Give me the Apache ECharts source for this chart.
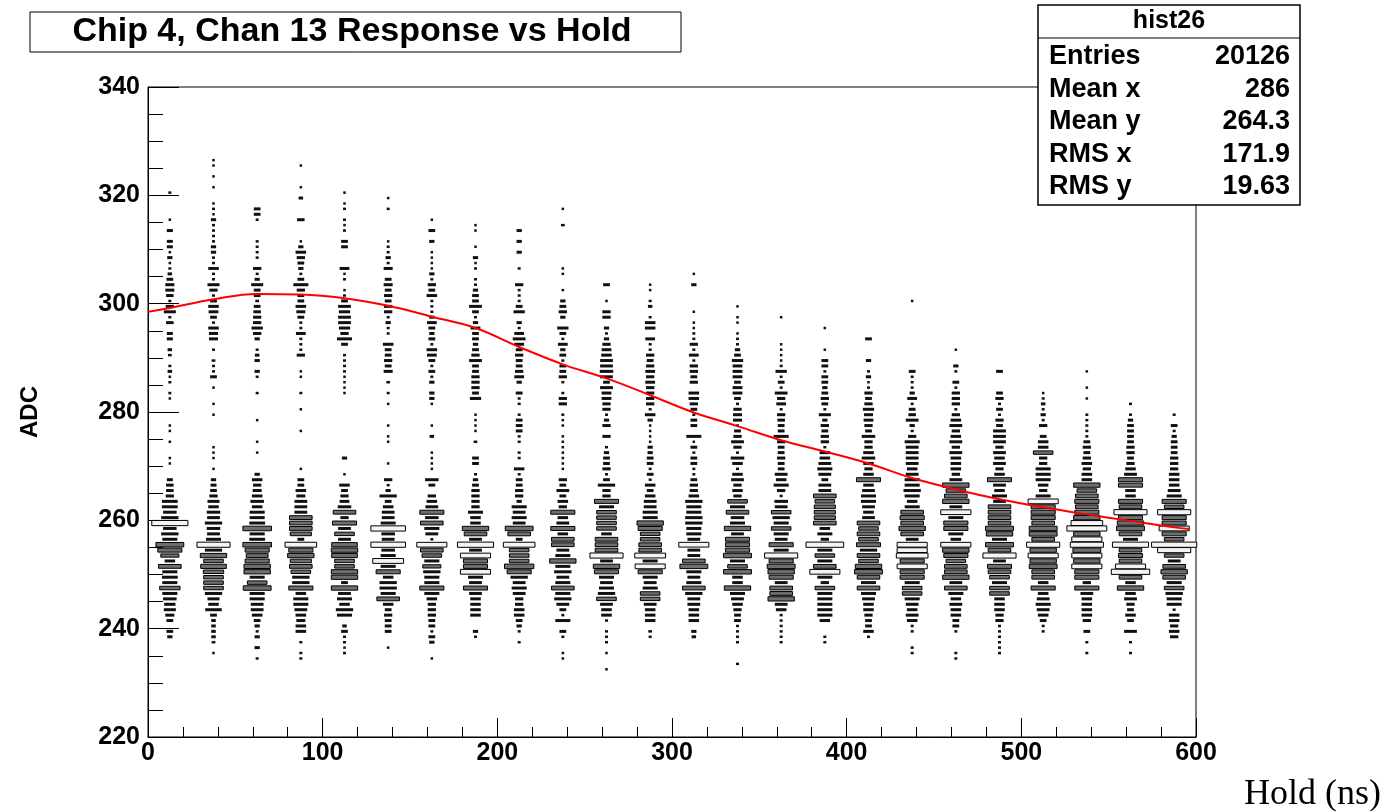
<!DOCTYPE html>
<html>
<head>
<meta charset="utf-8">
<script src="https://cdn.jsdelivr.net/npm/echarts@6/dist/echarts.min.js"></script>
<style>
  html, body { margin: 0; padding: 0; background: #fff; }
  #chart { width: 1386px; height: 811px; }
</style>
</head>
<body>
<div id="chart"></div>
<script>
// hold bin centres (ns) and lowest ADC bin of every column
const holdCenters = [12.5, 37.5, 62.5, 87.5, 112.5, 137.5, 162.5, 187.5, 212.5, 237.5, 262.5, 287.5,
  312.5, 337.5, 362.5, 387.5, 412.5, 437.5, 462.5, 487.5, 512.5, 537.5, 562.5, 587.5];
const binLow = [238, 235, 234, 234, 235, 236, 234, 238, 237, 234, 232, 238,
  238, 233, 237, 237, 238, 235, 234, 235, 239, 235, 235, 238];

// entries per 1-ADC bin, from binLow upwards
const c01 = [5,7,0,7,10,14,13,16,18,25, 18,19,18,28,12,22,30,35,18,21, 16,46,21,16,19,19,9,8,8,6,
  0,0,1,1,0,0,1,0,1,1, 0,0,0,0,1,2,0,2,1,4, 2,0,3,4,0,6,6,0,8,2, 14,9,2,8,10,10,7,4,2,1, 5,1,6,6,0,6,0,1,0,0, 0,0,2];
const c02 = [1,0,3,4,4,4,4,7,20,12, 14,21,24,24,24,25,32,24,33,21, 42,18,15,16,21,15,16,12,14,9,
  7,6,5,0,1,0,1,1,1,0, 0,0,0,0,1,0,1,0,0,1, 0,7,2,2,3,0,2,0,10,10, 12,2,7,11,12,7,2,9,14,2,
  2,12,2,2,5,5,2,2,2,2, 5,1,2,1,0,0,1,0,1,0, 1,1];
const c03 = [2,0,5,0,5,2,5,7,12,15, 15,18,18,35,24,18,33,33,30,27, 30,36,19,18,36,19,18,18,12,16,
  12,10,9,12,5,0,0,0,1,0, 1,0,0,0,1,0,0,0,0,2, 0,0,2,5,0,5,4,2,0,5, 9,13,9,9,8,7,3,7,7,14,
  5,2,9,0,2,2,2,2,0,0, 0,2,7,7];
const c04 = [2,2,0,2,0,12,12,10,12,15, 18,18,12,30,21,21,24,28,26,33, 30,40,7,26,28,28,28,15,15,15,
  10,12,7,7,0,1,0,0,0,0, 0,0,1,0,0,0,1,0,0,2, 0,0,1,1,0,0,9,2,2,2, 11,2,2,7,10,12,7,7,9,18,
  7,2,5,7,9,12,5,1,0,0, 0,8,0,0,0,4,0,1,0,0, 0,1];
const c05 = [2,1,2,2,7,4,0,18,21,12, 18,15,33,7,33,33,24,24,32,33, 32,15,24,15,30,9,28,16,11,9,
  7,12,0,1,0,0,5,0,0,0, 0,0,0,0,0,0,0,0,1,1, 1,1,2,2,2,2,0,7,18,9, 13,15,15,13,15,7,2,1,0,2,
  1,11,0,0,0,7,7,0,2,1, 2,0,2,1,0,1];
const c06 = [1,0,0,7,7,7,9,7,12,28, 18,21,21,12,30,18,39,18,16,44, 15,16,44,18,15,15,12,7,21,5,
  2,9,0,0,1,0,0,0,1,1, 0,1,0,0,0,1,0,2,0,3, 0,10,7,9,7,7,12,0,2,2, 5,2,9,9,7,9,7,10,7,0,
  10,2,5,2,2,1,0,0,0,0, 0,2,0,1];
const c07 = [1,0,0,5,7,2,7,7,9,9, 9,12,18,30,18,18,21,22,18,24, 28,38,2,15,18,28,16,30,15,12,
  9,0,7,16,0,1,1,1,1,0, 0,4,0,1,0,0,0,1,5,5, 0,5,2,7,2,7,11,12,2,7, 5,7,11,5,2,2,2,12,7,9,
  2,5,1,1,1,1,0,5,0,7, 0,1];
const c08 = [2,5,0,0,12,12,12,12,15,30, 15,18,38,30,30,38,15,46,15,28, 33,12,12,18,9,9,9,9,7,5,
  2,0,7,7,0,0,3,0,1,1, 1,1,0,0,13,7,9,9,9,7, 7,15,9,7,5,7,7,11,5,2, 7,15,7,7,5,2,2,0,2,1,
  5,0,1,0,0,1,1];
const c09 = [2,0,2,5,7,12,12,9,9,15, 18,15,21,30,37,24,24,24,40,7, 28,35,15,18,15,18,5,9,9,7,
  7,2,12,0,2,2,0,2,2,7, 7,7,2,0,2,2,7,0,5,11, 9,7,7,9,7,11,15,11,2,5, 0,13,7,2,2,2,9,0,0,2,
  0,0,5,0,5,0,5];
const c10 = [1,1,0,0,2,7,0,18,2,7, 15,21,18,28,18,15,21,18,33,18, 15,28,28,12,30,15,12,30,9,12,
  7,15,7,9,0,1,1,1,1,1, 1,1,0,1,1,2,0,9,9,2, 0,2,9,7,7,2,7,5,11,2, 7,13,0,5,9,7,5,0,1,0,
  0,1,1,0,0,0,0,0,0,0, 3,0,0,1];
const c11 = [1,0,0,1,0,2,2,2,0,2, 12,12,15,24,21,18,15,18,30,33, 15,42,28,28,28,12,24,24,24,24,
  18,30,9,9,21,7,2,9,7,7, 5,2,0,9,0,9,5,2,9,9, 11,11,15,7,15,16,15,15,12,11, 9,5,2,5,0,9,9,0,1,0,
  0,7];
const c12 = [2,3,0,12,12,12,15,24,24,18, 15,18,30,38,18,39,28,28,24,24, 30,33,18,18,15,15,12,7,12,2,
  7,2,7,7,5,5,1,1,1,1, 5,12,2,9,9,9,9,11,9,11, 9,7,9,2,2,11,0,12,12,2, 0,4,2,0,1,1];
const c13 = [4,5,0,12,12,12,15,15,21,28, 18,15,18,35,28,15,15,38,15,18, 18,21,21,18,18,21,12,9,9,7,
  2,2,7,7,2,7,1,18,0,7, 7,2,7,9,12,12,0,9,7,9, 9,2,11,2,9,2,2,1,1,0, 1,0,0,0,0,5,0,1];
const c14 = [2,0,0,0,2,2,2,2,7,7, 9,12,15,18,33,12,12,35,24,18, 35,30,30,30,15,33,18,16,28,18,
  24,9,12,9,15,12,2,12,16,2, 9,15,9,7,2,10,10,9,2,7, 11,11,7,11,11,11,13,7,5,2, 2,1,0,1,1,0,1];
const c15 = [2,2,2,2,2,2,12,15,33,28, 28,15,30,33,35,30,42,18,30,15, 18,24,18,21,24,15,16,2,9,18,
  12,15,7,7,9,7,7,9,18,7, 7,8,9,2,11,9,15,2,7,2, 13,2,1,1,1,1,0,0,0,0, 1];
const c16 = [2,2,0,0,12,18,18,18,18,18, 24,9,18,38,28,18,24,18,48,9, 18,12,28,26,26,26,24,28,15,15,
  7,15,18,15,12,12,2,9,9,7, 9,5,14,2,7,9,7,5,7,7, 2,7,7,0,1,0,0,0,1];
const c17 = [2,12,7,7,9,12,12,15,18,28, 18,28,35,33,24,28,21,30,24,28, 24,28,15,12,15,18,18,15,12,30,
  12,9,12,16,12,9,9,16,7,9, 11,10,13,9,7,9,2,1,5,2, 0,5,0,0,0,7];
const c18 = [2,2,0,0,2,2,12,15,12,15, 18,24,24,18,30,30,38,30,40,38, 38,15,28,33,28,30,28,18,12,18,
  21,18,18,15,12,15,15,15,15,18, 9,2,5,15,8,7,2,11,5,2, 2,2,7,0,0,0,0,0,0,0, 0,0,0,0,0,1];
const c19 = [2,2,0,0,0,2,7,7,12,12, 15,12,18,28,15,33,28,28,24,30, 33,38,12,18,30,30,18,38,15,33,
  28,24,33,15,9,12,12,12,15,9, 15,12,9,15,12,9,2,9,9,9, 2,7,0,2,5,0,0,1];
const c20 = [2,2,2,2,2,2,9,9,12,12, 12,24,24,18,24,28,30,15,42,28, 35,18,33,35,28,28,28,28,15,18,
  12,15,30,12,9,15,12,15,9,15, 15,15,7,9,2,7,2,9,7,0, 0,0,7];
const c21 = [2,2,7,12,15,18,15,12,30,12, 28,28,35,33,38,33,42,28,35,35, 28,30,30,30,38,18,9,12,18,18,
  18,9,9,24,12,12,7,0,9,2, 5,2,4,2,1];
const c22 = [2,0,2,0,7,0,9,12,12,12, 12,15,30,9,30,30,38,33,38,35, 42,38,33,51,40,33,30,28,30,28,
  24,33,12,12,9,12,9,7,9,7, 2,2,2,2,2,0,0,1,0,1, 0,0,1];
const c23 = [2,0,2,0,15,0,7,12,7,9, 15,12,33,12,28,49,38,28,30,28, 46,18,28,35,33,30,42,28,30,12,
  12,30,30,15,12,9,7,9,9,7, 7,7,7,5,2,0,2];
const c24 = [9,12,9,12,12,2,18,18,21,24, 18,28,33,28,15,24,42,58,24,30, 38,30,30,42,24,30,18,15,12,12,
  12,9,9,9,7,7,7,5,2,7, 0,2];
const columns = [c01, c02, c03, c04, c05, c06, c07, c08, c09, c10, c11, c12,
  c13, c14, c15, c16, c17, c18, c19, c20, c21, c22, c23, c24];

// red profile curve
const fitX = [0, 12.5, 37.5, 62.5, 87.5, 112.5, 137.5, 162.5, 187.5, 212.5, 237.5, 262.5, 287.5,
  312.5, 337.5, 362.5, 387.5, 412.5, 437.5, 462.5, 487.5, 512.5, 537.5, 562.5, 587.5, 596];
const fitY = [298.5, 299.2, 300.8, 301.8, 301.7, 301.0, 299.6, 297.6, 295.5, 292.0, 288.8, 286.2, 283.1,
  279.9, 277.4, 274.8, 272.7, 270.5, 267.8, 265.7, 263.9, 262.4, 261.1, 259.9, 258.7, 258.4];

const statLabels = ['Entries', 'Mean x', 'Mean y', 'RMS x', 'RMS y'];
const statValues = ['20126', '286', '264.3', '171.9', '19.63'];

const boxData = [];
columns.forEach((col, i) => {
  col.forEach((n, k) => {
    if (n > 0) boxData.push([holdCenters[i], binLow[i] + k, n]);
  });
});
const maxCount = Math.max(...boxData.map((d) => d[2]));

const FONT = 'Liberation Sans, Arial, Helvetica, sans-serif';

const chart = echarts.init(document.getElementById('chart'));

const statGraphics = [];
statLabels.forEach((lab, i) => {
  const y = 57 + i * 32.5;
  statGraphics.push({
    type: 'text', x: 1049, y, z: 101,
    style: { text: lab, font: 'bold 27px ' + FONT, fill: '#000', textVerticalAlign: 'middle' },
  });
  statGraphics.push({
    type: 'text', x: 1290, y, z: 101,
    style: { text: statValues[i], font: 'bold 27px ' + FONT, fill: '#000', textAlign: 'right', textVerticalAlign: 'middle' },
  });
});

chart.setOption({
  animation: false,
  backgroundColor: '#fff',
  grid: {
    left: 148, top: 87, width: 1048, height: 650,
    show: true, borderColor: '#000', borderWidth: 1, backgroundColor: 'transparent',
  },
  xAxis: {
    type: 'value', min: 0, max: 600, interval: 100,
    axisLine: { lineStyle: { color: '#000', width: 1 } },
    axisTick: { inside: true, length: 19, lineStyle: { color: '#000' } },
    minorTick: { show: true, splitNumber: 5, length: 10, lineStyle: { color: '#000' } },
    axisLabel: { color: '#000', fontFamily: FONT, fontWeight: 'bold', fontSize: 25, margin: 4 },
    splitLine: { show: false },
  },
  yAxis: {
    type: 'value', min: 220, max: 340, interval: 20,
    axisLine: { lineStyle: { color: '#000', width: 1 } },
    axisTick: { inside: true, length: 31, lineStyle: { color: '#000' } },
    minorTick: { show: true, splitNumber: 4, length: 15, lineStyle: { color: '#000' } },
    axisLabel: { color: '#000', fontFamily: FONT, fontWeight: 'bold', fontSize: 25, margin: 8 },
    splitLine: { show: false },
  },
  series: [
    {
      type: 'custom',
      data: boxData,
      z: 2,
      renderItem(params, api) {
        const c = api.coord([api.value(0), api.value(1) + 0.5]);
        const s = api.size([25, 1]);
        const f = api.value(2) / maxCount;
        const w = s[0] * f + 1.5;
        const rawH = s[1] * f;
        if (rawH < 2) {
          const ww = Math.max(w, 2.5);
          const hh = api.value(2) >= 4 ? 3 : 2.5;
          return {
            type: 'rect',
            shape: { x: c[0] - ww / 2, y: c[1] - hh / 2, width: ww, height: hh },
            style: { fill: '#111' },
          };
        }
        const h = Math.min(rawH + 1.2, s[1] - 0.2);
        return {
          type: 'rect',
          shape: { x: c[0] - w / 2, y: c[1] - h / 2, width: w, height: h },
          style: { fill: f > 0.64 ? '#f4f4f4' : '#6e6e6e', stroke: '#000', lineWidth: 1 },
        };
      },
    },
    {
      type: 'line',
      data: fitX.map((x, i) => [x, fitY[i]]),
      smooth: 0.4,
      showSymbol: false,
      z: 5,
      lineStyle: { color: '#f00', width: 2 },
    },
  ],
  graphic: [
    // title box
    {
      type: 'rect', shape: { x: 30, y: 12, width: 651, height: 40 }, z: 100,
      style: { fill: '#fff', stroke: '#000', lineWidth: 1 },
    },
    {
      type: 'text', x: 352, y: 32, z: 101,
      style: { text: 'Chip 4, Chan 13 Response vs Hold', font: 'bold 34px ' + FONT, fill: '#000', textAlign: 'center', textVerticalAlign: 'middle' },
    },
    // stats box
    {
      type: 'rect', shape: { x: 1038, y: 5, width: 262, height: 200 }, z: 100,
      style: { fill: '#fff', stroke: '#000', lineWidth: 1.5 },
    },
    {
      type: 'line', shape: { x1: 1038, y1: 38, x2: 1300, y2: 38 }, z: 101,
      style: { stroke: '#000', lineWidth: 1 },
    },
    {
      type: 'text', x: 1169, y: 21, z: 101,
      style: { text: 'hist26', font: 'bold 25px ' + FONT, fill: '#000', textAlign: 'center', textVerticalAlign: 'middle' },
    },
    ...statGraphics,
    // axis titles
    {
      type: 'text', x: 30, y: 412, rotation: Math.PI / 2, z: 101,
      style: { text: 'ADC', font: 'bold 24px ' + FONT, fill: '#000', textAlign: 'center', textVerticalAlign: 'middle' },
    },
    {
      type: 'text', x: 1381, y: 795, z: 101,
      style: { text: 'Hold (ns)', font: '36px Liberation Serif, Times New Roman, serif', fill: '#000', textAlign: 'right', textVerticalAlign: 'middle' },
    },
  ],
});
</script>
</body>
</html>
